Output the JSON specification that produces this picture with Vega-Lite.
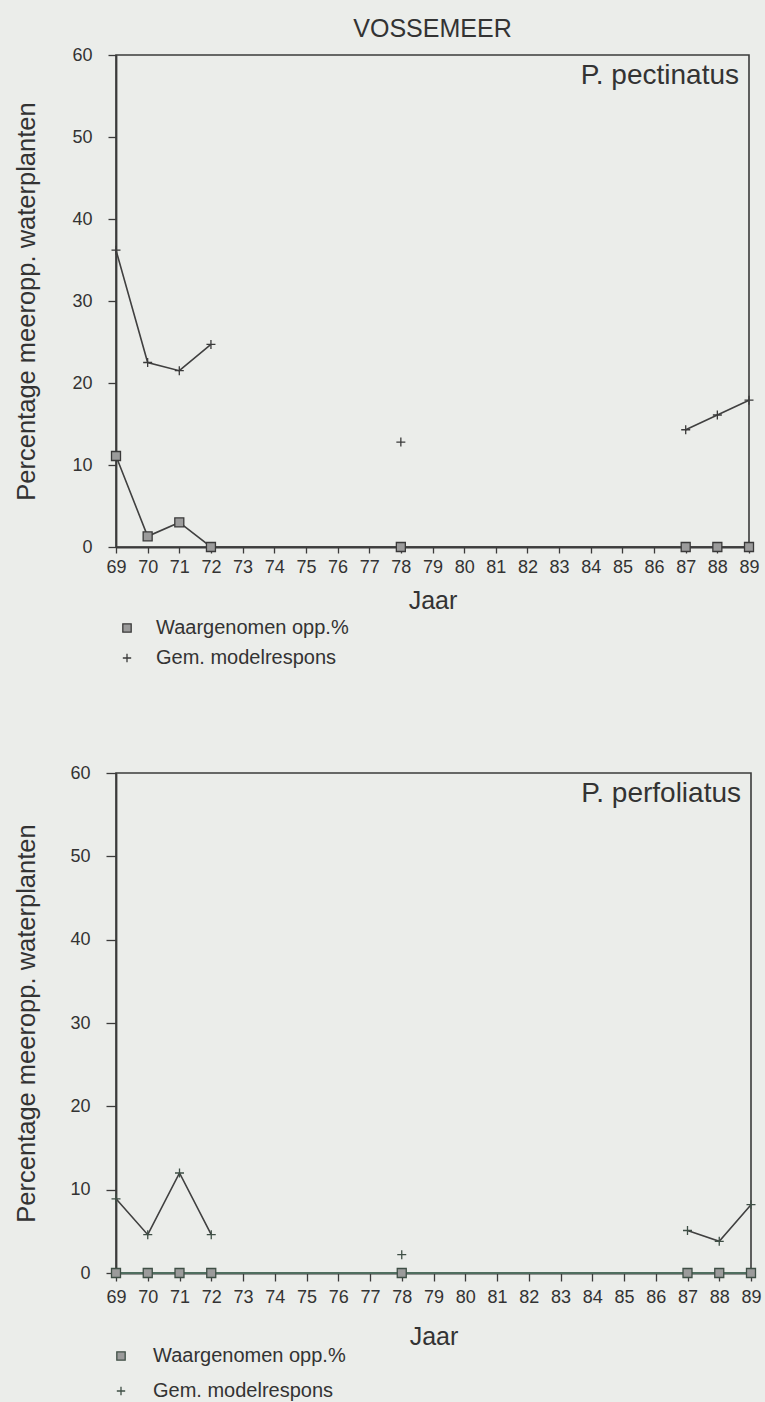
{
  "$schema": "https://vega.github.io/schema/vega-lite/v6.json",
  "background": "#ebedea",
  "padding": {"left": 14, "top": 16, "right": 8, "bottom": 2},
  "bounds": "flush",
  "spacing": 226,
  "config": {
    "font": "Liberation Sans",
    "view": {"stroke": "#3b3b3b", "strokeWidth": 1.6},
    "axis": {
      "grid": false,
      "domainColor": "#3b3b3b",
      "domainWidth": 1.8,
      "tickColor": "#3b3b3b",
      "tickWidth": 1.3,
      "labelColor": "#333333",
      "titleColor": "#333333",
      "labelFont": "Liberation Sans",
      "titleFont": "Liberation Sans",
      "titleFontWeight": "normal",
      "labelFlush": false,
      "labelOverlap": false
    },
    "legend": {
      "labelFont": "Liberation Sans",
      "labelColor": "#333333",
      "labelFontSize": 20,
      "labelLimit": 400,
      "symbolStrokeWidth": 1.3,
      "symbolSize": 70,
      "padding": 0
    },
    "title": {"font": "Liberation Sans", "color": "#333333", "fontWeight": "normal"}
  },
  "datasets": {
    "pectinatus": [
      {"jaar": 69, "waarde": 11.1, "reeks": "Waargenomen opp.%", "deel": "w"},
      {"jaar": 70, "waarde": 1.3, "reeks": "Waargenomen opp.%", "deel": "w"},
      {"jaar": 71, "waarde": 3.0, "reeks": "Waargenomen opp.%", "deel": "w"},
      {"jaar": 72, "waarde": 0, "reeks": "Waargenomen opp.%", "deel": "w"},
      {"jaar": 78, "waarde": 0, "reeks": "Waargenomen opp.%", "deel": "w"},
      {"jaar": 87, "waarde": 0, "reeks": "Waargenomen opp.%", "deel": "w"},
      {"jaar": 88, "waarde": 0, "reeks": "Waargenomen opp.%", "deel": "w"},
      {"jaar": 89, "waarde": 0, "reeks": "Waargenomen opp.%", "deel": "w"},
      {"jaar": 69, "waarde": 36.2, "reeks": "Gem. modelrespons", "deel": "a"},
      {"jaar": 70, "waarde": 22.5, "reeks": "Gem. modelrespons", "deel": "a"},
      {"jaar": 71, "waarde": 21.5, "reeks": "Gem. modelrespons", "deel": "a"},
      {"jaar": 72, "waarde": 24.7, "reeks": "Gem. modelrespons", "deel": "a"},
      {"jaar": 78, "waarde": 12.8, "reeks": "Gem. modelrespons", "deel": "b"},
      {"jaar": 87, "waarde": 14.3, "reeks": "Gem. modelrespons", "deel": "c"},
      {"jaar": 88, "waarde": 16.1, "reeks": "Gem. modelrespons", "deel": "c"},
      {"jaar": 89, "waarde": 17.9, "reeks": "Gem. modelrespons", "deel": "c"}
    ],
    "perfoliatus": [
      {"jaar": 69, "waarde": 0, "reeks": "Waargenomen opp.%", "deel": "w"},
      {"jaar": 70, "waarde": 0, "reeks": "Waargenomen opp.%", "deel": "w"},
      {"jaar": 71, "waarde": 0, "reeks": "Waargenomen opp.%", "deel": "w"},
      {"jaar": 72, "waarde": 0, "reeks": "Waargenomen opp.%", "deel": "w"},
      {"jaar": 78, "waarde": 0, "reeks": "Waargenomen opp.%", "deel": "w"},
      {"jaar": 87, "waarde": 0, "reeks": "Waargenomen opp.%", "deel": "w"},
      {"jaar": 88, "waarde": 0, "reeks": "Waargenomen opp.%", "deel": "w"},
      {"jaar": 89, "waarde": 0, "reeks": "Waargenomen opp.%", "deel": "w"},
      {"jaar": 69, "waarde": 8.9, "reeks": "Gem. modelrespons", "deel": "a"},
      {"jaar": 70, "waarde": 4.6, "reeks": "Gem. modelrespons", "deel": "a"},
      {"jaar": 71, "waarde": 12.0, "reeks": "Gem. modelrespons", "deel": "a"},
      {"jaar": 72, "waarde": 4.6, "reeks": "Gem. modelrespons", "deel": "a"},
      {"jaar": 78, "waarde": 2.2, "reeks": "Gem. modelrespons", "deel": "b"},
      {"jaar": 87, "waarde": 5.1, "reeks": "Gem. modelrespons", "deel": "c"},
      {"jaar": 88, "waarde": 3.8, "reeks": "Gem. modelrespons", "deel": "c"},
      {"jaar": 89, "waarde": 8.2, "reeks": "Gem. modelrespons", "deel": "c"}
    ],
    "soort_boven": [{"soort": "P. pectinatus"}],
    "soort_onder": [{"soort": "P. perfoliatus"}]
  },
  "vconcat": [
    {
      "width": 633,
      "height": 492,
      "title": {"text": "VOSSEMEER", "fontSize": 25, "anchor": "middle", "offset": 4},
      "layer": [
        {
          "data": {"name": "pectinatus"},
          "encoding": {
            "x": {
              "field": "jaar", "type": "quantitative",
              "scale": {"domain": [69, 89], "nice": false, "zero": false},
              "axis": {"title": "Jaar", "values": [69,70,71,72,73,74,75,76,77,78,79,80,81,82,83,84,85,86,87,88,89], "format": "d", "labelFontSize": 18, "titleFontSize": 25, "tickSize": 6, "labelPadding": 5, "titlePadding": 12}
            },
            "y": {
              "field": "waarde", "type": "quantitative",
              "scale": {"domain": [0, 60], "nice": false},
              "axis": {"title": "Percentage meeropp. waterplanten", "values": [0,10,20,30,40,50,60], "labelFontSize": 18, "titleFontSize": 25.5, "tickSize": 8, "labelPadding": 16, "titlePadding": 32}
            }
          },
          "layer": [
            {
              "transform": [{"filter": "datum.reeks === 'Waargenomen opp.%'"}],
              "mark": {"type": "line", "color": "#404040", "strokeWidth": 1.6},
              "encoding": {"detail": {"field": "deel"}}
            },
            {
              "transform": [{"filter": "datum.reeks === 'Gem. modelrespons'"}],
              "mark": {"type": "line", "color": "#404040", "strokeWidth": 1.6},
              "encoding": {"detail": {"field": "deel"}}
            },
            {
              "mark": {"type": "point", "filled": true, "fill": "#9b9b9b", "stroke": "#3a3a3a", "strokeWidth": 1.3, "size": 81, "opacity": 1},
              "encoding": {
                "shape": {
                  "field": "reeks", "type": "nominal",
                  "scale": {"domain": ["Waargenomen opp.%", "Gem. modelrespons"], "range": ["square", "M-1,0L1,0M0,-1L0,1"]},
                  "legend": {"title": null, "orient": "none", "legendX": 1, "legendY": 563, "rowPadding": 10, "labelOffset": 19,
                    "encode": {"symbols": {"fill": {"value": "#9b9b9b"}, "stroke": {"value": "#3a3a3a"}, "strokeWidth": {"value": 1.3}}}}
                }
              }
            }
          ]
        },
        {
          "data": {"name": "soort_boven"},
          "mark": {"type": "text", "align": "right", "baseline": "top", "dx": -10, "dy": 7, "fontSize": 28, "fill": "#333333", "opacity": 1},
          "encoding": {
            "x": {
              "datum": 89, "type": "quantitative",
              "axis": {"title": "Jaar", "values": [69,70,71,72,73,74,75,76,77,78,79,80,81,82,83,84,85,86,87,88,89], "format": "d", "labelFontSize": 18, "titleFontSize": 25, "tickSize": 6, "labelPadding": 5, "titlePadding": 12}
            },
            "y": {
              "datum": 60, "type": "quantitative",
              "axis": {"title": "Percentage meeropp. waterplanten", "values": [0,10,20,30,40,50,60], "labelFontSize": 18, "titleFontSize": 25.5, "tickSize": 8, "labelPadding": 16, "titlePadding": 32}
            },
            "text": {"field": "soort", "type": "nominal"}
          }
        }
      ]
    },
    {
      "width": 635,
      "height": 500,
      "layer": [
        {
          "data": {"name": "perfoliatus"},
          "encoding": {
            "x": {
              "field": "jaar", "type": "quantitative",
              "scale": {"domain": [69, 89], "nice": false, "zero": false},
              "axis": {"title": "Jaar", "values": [69,70,71,72,73,74,75,76,77,78,79,80,81,82,83,84,85,86,87,88,89], "format": "d", "labelFontSize": 18, "titleFontSize": 25, "tickSize": 8, "labelPadding": 7, "titlePadding": 18}
            },
            "y": {
              "field": "waarde", "type": "quantitative",
              "scale": {"domain": [0, 60], "nice": false},
              "axis": {"title": "Percentage meeropp. waterplanten", "values": [0,10,20,30,40,50,60], "labelFontSize": 18, "titleFontSize": 25.5, "tickSize": 10, "labelPadding": 16, "titlePadding": 30}
            }
          },
          "layer": [
            {
              "transform": [{"filter": "datum.reeks === 'Waargenomen opp.%'"}],
              "mark": {"type": "line", "color": "#4f6e5f", "strokeWidth": 2},
              "encoding": {"detail": {"field": "deel"}}
            },
            {
              "transform": [{"filter": "datum.reeks === 'Gem. modelrespons'"}],
              "mark": {"type": "line", "color": "#404040", "strokeWidth": 1.6},
              "encoding": {"detail": {"field": "deel"}}
            },
            {
              "mark": {"type": "point", "filled": true, "fill": "#9b9b9b", "stroke": "#3f4f46", "strokeWidth": 1.3, "size": 81, "opacity": 1},
              "encoding": {
                "shape": {
                  "field": "reeks", "type": "nominal",
                  "scale": {"domain": ["Waargenomen opp.%", "Gem. modelrespons"], "range": ["square", "M-1,0L1,0M0,-1L0,1"]},
                  "legend": {"title": null, "orient": "none", "legendX": -5, "legendY": 573, "rowPadding": 15, "labelOffset": 22,
                    "encode": {"symbols": {"fill": {"value": "#9b9b9b"}, "stroke": {"value": "#3a3a3a"}, "strokeWidth": {"value": 1.3}}}}
                }
              }
            }
          ]
        },
        {
          "data": {"name": "soort_onder"},
          "mark": {"type": "text", "align": "right", "baseline": "top", "dx": -10, "dy": 7, "fontSize": 28, "fill": "#333333", "opacity": 1},
          "encoding": {
            "x": {
              "datum": 89, "type": "quantitative",
              "axis": {"title": "Jaar", "values": [69,70,71,72,73,74,75,76,77,78,79,80,81,82,83,84,85,86,87,88,89], "format": "d", "labelFontSize": 18, "titleFontSize": 25, "tickSize": 8, "labelPadding": 7, "titlePadding": 18}
            },
            "y": {
              "datum": 60, "type": "quantitative",
              "axis": {"title": "Percentage meeropp. waterplanten", "values": [0,10,20,30,40,50,60], "labelFontSize": 18, "titleFontSize": 25.5, "tickSize": 10, "labelPadding": 16, "titlePadding": 30}
            },
            "text": {"field": "soort", "type": "nominal"}
          }
        }
      ]
    }
  ],
  "resolve": {
    "scale": {"shape": "independent"},
    "legend": {"shape": "independent"}
  }
}
